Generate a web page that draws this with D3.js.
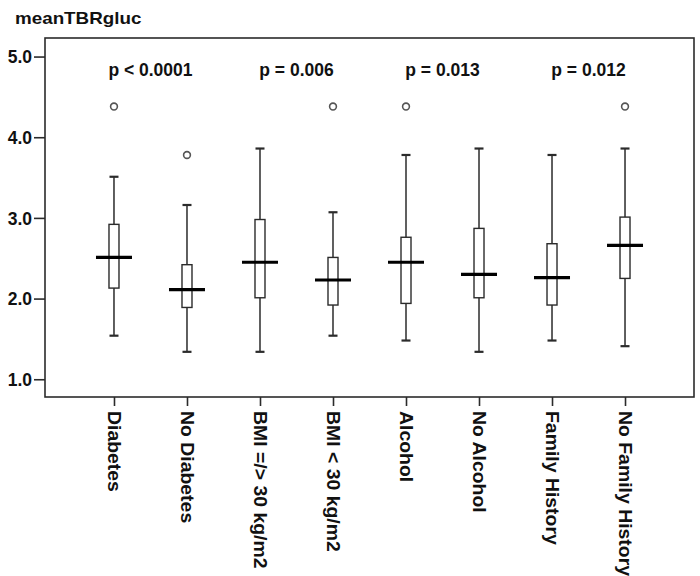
<!DOCTYPE html>
<html>
<head>
<meta charset="utf-8">
<script src="https://cdn.jsdelivr.net/npm/d3@7"></script>
<style>
  html, body { margin: 0; padding: 0; background: #fff; }
  svg { display: block; }
  text { font-family: "Liberation Sans", Arial, sans-serif; font-weight: bold; fill: #111; }
</style>
</head>
<body>
<svg id="chart" width="700" height="576"></svg>
<script>
// ---- data ----
const categories = ["Diabetes", "No Diabetes", "BMI =/> 30 kg/m2", "BMI < 30 kg/m2",
                    "Alcohol", "No Alcohol", "Family History", "No Family History"];
const whiskerLow  = [1.54, 1.34, 1.34, 1.54, 1.48, 1.34, 1.48, 1.41];
const q1          = [2.13, 1.89, 2.01, 1.92, 1.94, 2.01, 1.92, 2.25];
const medians     = [2.51, 2.11, 2.45, 2.23, 2.45, 2.30, 2.26, 2.66];
const q3          = [2.92, 2.42, 2.98, 2.51, 2.76, 2.87, 2.68, 3.01];
const whiskerHigh = [3.51, 3.16, 3.86, 3.07, 3.78, 3.86, 3.78, 3.86];
const outliers    = [[4.38], [3.78], [], [4.38], [4.38], [], [], [4.38]];
const pLabels     = ["p < 0.0001", "p = 0.006", "p = 0.013", "p = 0.012"];
const pPairs      = [[0, 1], [2, 3], [4, 5], [6, 7]];
const yTicks      = [1.0, 2.0, 3.0, 4.0, 5.0];
const yTitle      = "meanTBRgluc";

// ---- layout ----
const svg = d3.select("#chart");
const mLeft = 45, mRight = 694, mTop = 38, mBottom = 397;
const ink = "#2b2b2b";

const x = d3.scalePoint().domain(categories).range([mLeft, mRight]).padding(0.945);
const y = d3.scaleLinear().domain([0.78, 5.23]).range([mBottom, mTop]);

// frame
svg.append("rect")
  .attr("x", mLeft).attr("y", mTop)
  .attr("width", mRight - mLeft).attr("height", mBottom - mTop)
  .attr("fill", "none").attr("stroke", ink).attr("stroke-width", 1.6);

// y axis
const yAxis = d3.axisLeft(y).tickValues(yTicks).tickFormat(d3.format(".1f"))
  .tickSize(11).tickPadding(2);
const gy = svg.append("g").attr("transform", `translate(${mLeft},0)`).call(yAxis);
gy.select(".domain").remove();
gy.selectAll(".tick line").attr("stroke", ink).attr("stroke-width", 1.6);
gy.selectAll(".tick text").attr("font-size", 17.5).attr("font-weight", "bold")
  .attr("fill", "#111").attr("font-family", "Liberation Sans, Arial, sans-serif")
  .attr("dy", "0.36em");

// x axis
const xAxis = d3.axisBottom(x).tickSize(9).tickPadding(0);
const gx = svg.append("g").attr("transform", `translate(0,${mBottom})`).call(xAxis);
gx.select(".domain").remove();
gx.selectAll(".tick line").attr("stroke", ink).attr("stroke-width", 1.6);
gx.selectAll(".tick text")
  .attr("font-size", 18.5).attr("font-weight", "bold").attr("fill", "#111")
  .attr("font-family", "Liberation Sans, Arial, sans-serif")
  .attr("text-anchor", "start")
  .attr("dy", null)
  .attr("y", 0).attr("x", 0)
  .attr("transform", "translate(0,14) rotate(90) scale(1.05,1)")
  .attr("dominant-baseline", "central");

// y title
svg.append("text")
  .attr("transform", "translate(15,24) scale(1.14,1)")
  .attr("font-size", 16.5)
  .text(yTitle);

// boxes
const boxW = 10, medW = 36, capW = 9;
const g = svg.append("g");
categories.forEach((c, i) => {
  const cx = x(c);
  g.append("line").attr("x1", cx).attr("x2", cx)
    .attr("y1", y(whiskerLow[i])).attr("y2", y(whiskerHigh[i]))
    .attr("stroke", ink).attr("stroke-width", 1.5);
  [whiskerLow[i], whiskerHigh[i]].forEach(v => {
    g.append("line").attr("x1", cx - capW / 2).attr("x2", cx + capW / 2)
      .attr("y1", y(v)).attr("y2", y(v))
      .attr("stroke", ink).attr("stroke-width", 2.2);
  });
  g.append("rect").attr("x", cx - boxW / 2).attr("y", y(q3[i]))
    .attr("width", boxW).attr("height", y(q1[i]) - y(q3[i]))
    .attr("fill", "#fff").attr("stroke", ink).attr("stroke-width", 1.4);
  g.append("line").attr("x1", cx - medW / 2).attr("x2", cx + medW / 2)
    .attr("y1", y(medians[i])).attr("y2", y(medians[i]))
    .attr("stroke", "#000").attr("stroke-width", 3.2);
  outliers[i].forEach(v => {
    g.append("circle").attr("cx", cx).attr("cy", y(v)).attr("r", 3.4)
      .attr("fill", "#fff").attr("stroke", "#555").attr("stroke-width", 1.6);
  });
});

// p-values
pLabels.forEach((t, k) => {
  const [a, b] = pPairs[k];
  const cx = (x(categories[a]) + x(categories[b])) / 2;
  svg.append("text").attr("x", cx).attr("y", 76)
    .attr("text-anchor", "middle").attr("font-size", 17.5)
    .text(t);
});
</script>
</body>
</html>
